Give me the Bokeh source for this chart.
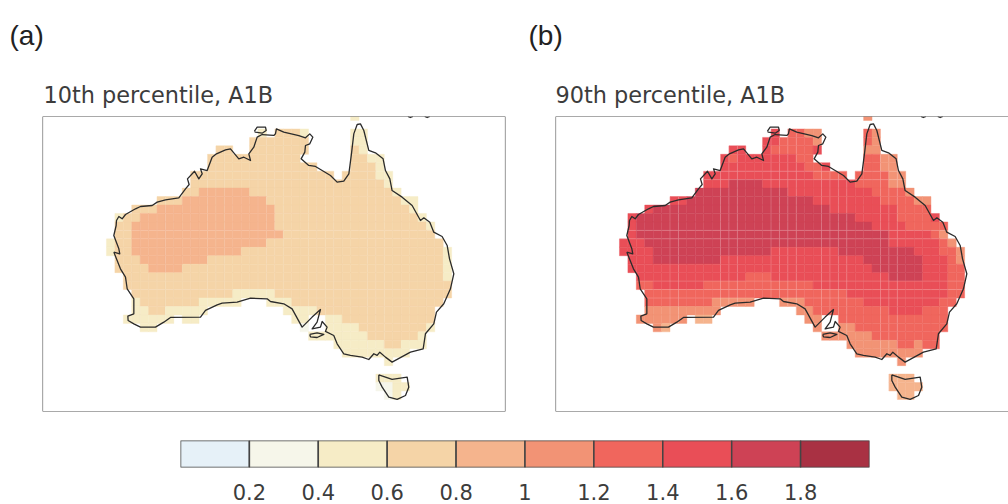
from bokeh.plotting import figure
from bokeh.layouts import column, row
from bokeh.models import Title, Span, ColumnDataSource, LinearColorMapper, FixedTicker
from bokeh.embed import file_html
from bokeh.resources import INLINE

# class boundaries and colours of the legend
CLASS_EDGES = [0.0, 0.2, 0.4, 0.6, 0.8, 1.0, 1.2, 1.4, 1.6, 1.8, 2.0]
PALETTE = ["#E6F1F8", "#F6F6EA", "#F6ECC6", "#F5D4A7", "#F5B48D",
           "#F29375", "#F0665D", "#E94E57", "#CE4255", "#A93143"]
TICKS = [0.2, 0.4, 0.6, 0.8, 1.0, 1.2, 1.4, 1.6, 1.8]
TICK_LABELS = {1.0: "1"}

# 1 degree model grid: row -> runs of (first column, last column, class index)
PANEL_A = {
    0: [(29,29,2)],
    2: [(18,18,2),(20,22,3),(23,23,2),(29,30,2)],
    3: [(17,23,3),(29,30,2)],
    4: [(13,14,3),(17,23,3),(29,29,3),(30,30,2)],
    5: [(12,22,3),(29,30,3),(31,32,2)],
    6: [(12,24,3),(29,31,3),(32,32,2)],
    7: [(10,26,3),(28,31,3),(32,33,2)],
    8: [(10,32,3),(33,33,2)],
    9: [(9,10,3),(11,16,4),(17,33,3),(34,34,2)],
    10: [(6,8,3),(9,18,4),(19,34,3),(35,36,2)],
    11: [(3,5,3),(6,19,4),(20,35,3),(36,36,2)],
    12: [(1,1,2),(2,3,3),(4,19,4),(20,36,3),(37,37,2)],
    13: [(1,2,3),(3,19,4),(20,37,3),(38,38,2)],
    14: [(1,2,3),(3,20,4),(21,38,3)],
    15: [(0,0,2),(1,2,3),(3,18,4),(19,39,3)],
    16: [(0,0,2),(1,2,3),(3,15,4),(16,39,3),(40,40,2)],
    17: [(1,3,3),(4,11,4),(12,39,3),(40,40,2)],
    18: [(1,4,3),(5,8,4),(9,39,3),(40,40,2)],
    19: [(2,39,3),(40,40,2)],
    20: [(2,40,3)],
    21: [(3,14,3),(15,19,2),(20,40,3)],
    22: [(3,3,2),(4,10,3),(11,15,2),(19,21,2),(22,39,3)],
    23: [(3,4,2),(5,6,3),(7,11,2),(21,24,2),(25,38,3)],
    24: [(2,7,2),(9,10,2),(22,23,2),(26,27,2),(28,38,3)],
    25: [(4,5,2),(23,23,1),(26,29,2),(30,37,3),(38,38,2)],
    26: [(24,25,2),(26,30,2),(31,36,3),(37,37,2)],
    27: [(27,32,2),(33,34,3),(35,37,2)],
    28: [(28,35,2)],
    29: [(33,33,2)],
    31: [(32,34,2)],
    32: [(32,33,1),(34,35,2)],
    33: [(33,33,1),(34,34,2)],
}
PANEL_B = {
    0: [(29,29,5)],
    2: [(18,18,7),(20,21,6),(22,23,5),(29,29,6),(30,30,5)],
    3: [(17,18,7),(19,22,6),(23,23,5),(29,29,6),(30,30,5)],
    4: [(13,14,7),(17,17,7),(18,22,6),(23,23,7),(29,30,5)],
    5: [(12,12,7),(13,13,6),(14,20,7),(21,22,6),(29,30,6),(31,32,5)],
    6: [(12,21,7),(22,23,6),(24,24,7),(29,30,6),(31,32,5)],
    7: [(10,22,7),(23,26,6),(28,31,6),(32,33,5)],
    8: [(10,12,7),(13,16,8),(17,27,7),(28,31,6),(32,33,5)],
    9: [(9,19,8),(20,29,7),(30,33,6),(34,34,5)],
    10: [(6,7,7),(8,22,8),(23,30,7),(31,34,6),(35,36,5)],
    11: [(3,3,7),(4,24,8),(25,32,7),(33,36,6)],
    12: [(1,1,7),(2,27,8),(28,32,7),(33,36,6),(37,37,7)],
    13: [(1,1,7),(2,29,8),(30,33,7),(34,38,6)],
    14: [(1,1,7),(2,31,8),(32,36,7),(37,37,6),(38,38,5)],
    15: [(0,2,7),(3,31,8),(32,37,7),(38,38,6),(39,39,5)],
    16: [(0,3,7),(4,17,8),(18,25,7),(26,34,8),(35,37,7),(38,39,6),(40,40,5)],
    17: [(1,3,7),(4,11,8),(12,28,7),(29,35,8),(36,38,7),(39,39,6),(40,40,5)],
    18: [(1,29,7),(30,35,8),(36,38,7),(39,40,6)],
    19: [(2,14,7),(15,17,6),(18,31,7),(32,35,8),(36,38,7),(39,40,6)],
    20: [(2,3,6),(4,9,7),(10,22,6),(23,38,7),(39,40,6)],
    21: [(3,26,6),(27,38,7),(39,40,6)],
    22: [(3,10,6),(11,15,5),(19,21,5),(22,28,6),(29,37,7),(38,39,6)],
    23: [(3,11,5),(21,22,5),(23,31,6),(32,35,7),(36,38,6)],
    24: [(2,7,5),(9,10,4),(22,23,5),(26,38,6)],
    25: [(4,4,5),(5,5,4),(23,23,5),(26,27,5),(28,38,6)],
    26: [(24,29,5),(30,37,6)],
    27: [(27,32,5),(33,34,6),(35,35,5),(36,37,6)],
    28: [(28,35,5)],
    29: [(33,33,5)],
    31: [(32,34,4)],
    32: [(32,35,4)],
    33: [(33,34,4)],
}
GRID_LON0 = 112.6
GRID_LAT0 = -9.47
GRID_DLAT = 1.003
SEAM_COLS = [6, 7, 12, 13, 14, 18, 19, 20, 21, 24, 25, 26, 27, 31, 32, 33]
SEAM_ROWS = [7, 8, 14, 15, 20, 21, 22]

# coastline, degrees east and north
MAIN_LON = [113.47,114.18,114.07,113.47,113.75,113.79,114.07,114.46,114.86,116.05,116.64,118.03,118.62,119.61,
            121.19,121.99,122.42,122.22,123.06,123.57,123.97,123.77,124.56,125.15,125.67,126.74,127.33,128.32,
            128.92,129.71,129.51,130.10,130.50,131.09,132.48,132.67,132.79,133.66,135.45,136.24,136.75,137.11,
            136.75,136.24,136.16,135.72,136.63,137.43,139.21,140.00,140.79,141.39,141.70,141.98,142.38,142.77,
            143.17,143.76,144.55,145.46,145.74,146.26,146.53,147.72,148.91,149.90,150.30,151.01,151.48,152.47,
            153.07,153.35,153.86,153.46,152.67,151.80,151.48,150.49,150.22,148.71,146.53,145.74,145.07,144.75,
            144.36,143.76,142.97,141.58,140.79,140.00,139.60,138.61,138.81,138.22,138.02,137.03,137.62,138.02,
            137.03,135.84,134.65,133.66,132.08,131.69,129.71,128.12,126.34,125.75,124.36,123.77,120.20,119.41,
            118.42,116.64,115.85,115.17,115.14,115.85,115.85,115.06,114.86,114.26,113.47]
MAIN_LAT = [-26.09,-26.29,-25.70,-24.12,-22.93,-22.34,-21.86,-22.14,-21.63,-20.95,-20.68,-20.56,-20.16,-19.89,
            -19.65,-18.58,-18.07,-17.40,-16.49,-17.40,-16.80,-16.21,-16.41,-14.83,-14.43,-13.96,-13.84,-15.02,
            -14.83,-15.22,-14.43,-13.64,-12.45,-12.14,-12.25,-12.06,-11.46,-11.86,-12.26,-12.53,-12.06,-12.45,
            -13.24,-13.44,-14.23,-15.02,-15.81,-15.93,-17.00,-17.79,-17.67,-16.80,-14.43,-12.06,-10.95,-10.87,
            -11.66,-14.03,-14.31,-15.02,-16.41,-17.40,-18.78,-19.57,-20.56,-22.34,-22.02,-22.54,-23.72,-24.24,
            -25.30,-26.89,-28.66,-30.44,-32.22,-33.21,-34.60,-35.78,-37.56,-37.96,-39.14,-38.55,-37.96,-38.35,
            -38.15,-38.83,-38.55,-38.35,-38.15,-36.97,-35.98,-35.50,-34.99,-34.32,-34.99,-35.19,-34.40,-32.90,
            -33.80,-34.99,-32.82,-32.22,-31.95,-31.63,-31.55,-32.03,-32.14,-32.34,-33.01,-33.80,-33.84,-34.40,
            -34.99,-34.99,-34.60,-34.20,-33.69,-33.41,-31.63,-30.44,-29.06,-28.07,-26.09]
MELVILLE_LON = [130.18,130.50,131.49,131.57,131.09,130.30,130.18]
MELVILLE_LAT = [-11.74,-11.27,-11.27,-11.66,-11.98,-11.86,-11.74]
KANGAROO_LON = [136.75,137.62,138.42,137.62,136.83,136.75]
KANGAROO_LAT = [-35.86,-35.66,-35.86,-36.22,-36.14,-35.86]
TASMANIA_LON = [144.95,146.53,148.32,148.51,148.12,147.13,146.14,145.35,144.95,144.95]
TASMANIA_LAT = [-40.65,-41.20,-40.92,-42.11,-43.10,-43.57,-43.29,-42.11,-41.32,-40.65]
GUINEA_A_LON = [148.4,148.7,149.0]
GUINEA_A_LAT = [-10.0,-10.12,-10.0]
GUINEA_B_LON = [150.4,150.7,151.0]
GUINEA_B_LAT = [-10.0,-10.12,-10.0]
COAST_LONS = [MAIN_LON, MELVILLE_LON, KANGAROO_LON, TASMANIA_LON, GUINEA_A_LON, GUINEA_B_LON]
COAST_LATS = [MAIN_LAT, MELVILLE_LAT, KANGAROO_LAT, TASMANIA_LAT, GUINEA_A_LAT, GUINEA_B_LAT]

TITLE_A = "10th percentile, A1B"
TITLE_B = "90th percentile, A1B"
LETTER_A = "(a)"
LETTER_B = "(b)"

INK = "#3c3c3c"
FRAME = "#555555"
mapper = LinearColorMapper(palette=PALETTE, low=CLASS_EDGES[0], high=CLASS_EDGES[-1])


def cells(panel):
    left, right, top, bottom, val = [], [], [], [], []
    for r, runs in panel.items():
        for c0, c1, k in runs:
            for c in range(c0, c1 + 1):
                left.append(GRID_LON0 + c)
                right.append(GRID_LON0 + c + 1)
                top.append(GRID_LAT0 - r * GRID_DLAT)
                bottom.append(GRID_LAT0 - (r + 1) * GRID_DLAT)
                val.append((CLASS_EDGES[k] + CLASS_EDGES[k + 1]) / 2)
    return dict(left=left, right=right, top=top, bottom=bottom, val=val)


def map_panel(panel, x_end, width, left_border, right_border, letter, letter_x, title, title_x, seam_alpha):
    p = figure(width=width, height=425, x_range=(105, x_end), y_range=(-45, -10),
               output_backend="svg", toolbar_location=None, tools="",
               min_border_left=left_border, min_border_right=right_border,
               min_border_top=116, min_border_bottom=14,
               outline_line_color=None, background_fill_color="white", border_fill_color="white")
    p.xaxis.visible = False
    p.yaxis.visible = False
    p.xgrid.visible = False
    p.ygrid.visible = False
    d = cells(panel)
    color = {"field": "val", "transform": mapper}
    p.quad(source=ColumnDataSource(d), left="left", right="right", top="top", bottom="bottom",
           fill_color=color, line_color=color, line_width=0.4)
    # lighter seams between some grid columns and rows
    x0, y0, x1, y1 = [], [], [], []
    for r, runs in panel.items():
        for c0, c1, k in runs:
            for c in range(c0, c1 + 1):
                top = GRID_LAT0 - r * GRID_DLAT
                if c in SEAM_COLS:
                    x0.append(GRID_LON0 + c); x1.append(GRID_LON0 + c)
                    y0.append(top); y1.append(top - GRID_DLAT)
                if r in SEAM_ROWS:
                    x0.append(GRID_LON0 + c); x1.append(GRID_LON0 + c + 1)
                    y0.append(top); y1.append(top)
    p.segment(x0, y0, x1, y1, line_color="white", line_alpha=seam_alpha, line_width=1)
    p.multi_line(COAST_LONS, COAST_LATS, line_color="#2b2b2b", line_width=1.3, line_join="round")
    p.add_layout(Span(location=-10, dimension="width", line_color=FRAME, line_width=1.2))
    p.add_layout(Span(location=-45, dimension="width", line_color=FRAME, line_width=1.2))
    p.add_layout(Span(location=105, dimension="height", line_color=FRAME, line_width=1.2))
    if x_end == 160:
        p.add_layout(Span(location=160, dimension="height", line_color=FRAME, line_width=1.2))
    p.add_layout(Title(text=title, align="left", offset=title_x, standoff=17,
                       text_font="DejaVu Sans", text_font_size="22.4px", text_color=INK,
                       text_font_style="normal"), "above")
    p.add_layout(Title(text=letter, align="left", offset=letter_x, standoff=37, vertical_align="top",
                       text_font="Liberation Sans", text_font_size="28px", text_color="#222222",
                       text_font_style="normal"), "above")
    return p


a = map_panel(PANEL_A, 160, 525, 42, 20, LETTER_A, -33, TITLE_A, 1, 0.10)
b = map_panel(PANEL_B, 158.81, 483, 30, 0, LETTER_B, -27, TITLE_B, 0, 0.20)

# legend strip
bar = figure(width=1008, height=79, x_range=(CLASS_EDGES[0], CLASS_EDGES[-1]), y_range=(0, 1),
             output_backend="svg", toolbar_location=None, tools="",
             min_border_left=180, min_border_right=139, min_border_top=15, min_border_bottom=37,
             outline_line_color=None, border_fill_color="white")
bar.xgrid.visible = False
bar.ygrid.visible = False
bar.yaxis.visible = False
bar.quad(left=CLASS_EDGES[:-1], right=CLASS_EDGES[1:], top=1, bottom=0,
         fill_color=PALETTE, line_color="#444444", line_width=1.5)
ax = bar.xaxis[0]
ax.ticker = FixedTicker(ticks=TICKS)
ax.major_label_overrides = TICK_LABELS
ax.axis_line_color = None
ax.major_tick_line_color = None
ax.minor_tick_line_color = None
ax.major_label_standoff = 10
ax.major_label_text_font = "DejaVu Sans"
ax.major_label_text_font_size = "21px"
ax.major_label_text_color = INK

layout = column(row(a, b, spacing=0), bar, spacing=0)
open("out.html", "w").write(file_html(layout, INLINE))
